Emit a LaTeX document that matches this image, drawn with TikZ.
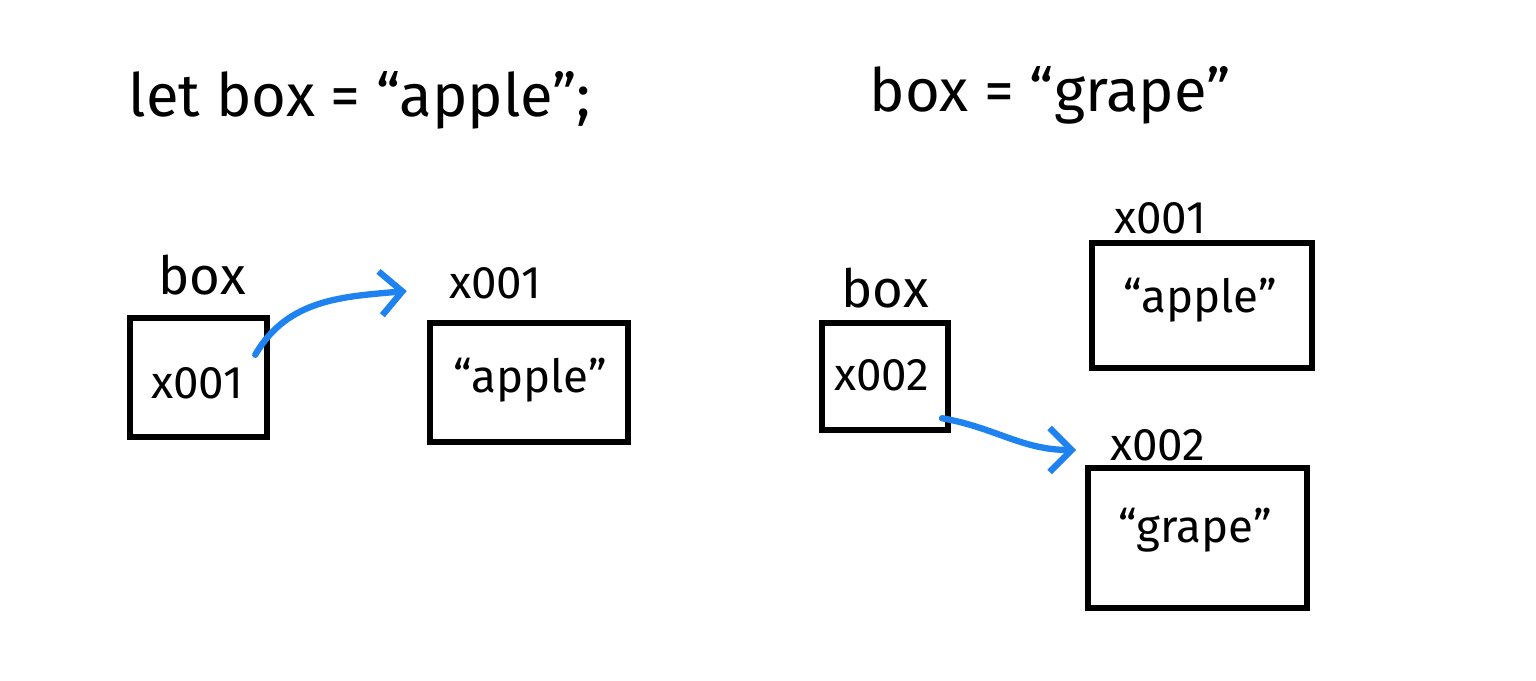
\documentclass[tikz,border=0pt]{standalone}
\usepackage{fontspec}
\setsansfont{Fira Sans}
\usetikzlibrary{arrows.meta, positioning}

\definecolor{ptrblue}{RGB}{30,130,240}

\tikzset{
  cell/.style={draw, line width=1.8pt},
  hand/.style={font=\sffamily\fontsize{13}{16}\selectfont},
  varname/.style={font=\sffamily\fontsize{15}{18}\selectfont},
  title/.style={font=\sffamily\fontsize{17}{20}\selectfont},
  pointer/.style={ptrblue, line width=1.8pt, line cap=round,
    -{Straight Barb[length=2.2mm, width=4.4mm, line width=1.8pt]}}
}

\begin{document}
\begin{tikzpicture}
\useasboundingbox (0,0) rectangle (15.36,6.8);

% left: let box = "apple";
\node[title] (code1) at (3.6,5.8) {let box = ``apple'';};

\node[varname] (name1) at (2.02,4.05) {box};
\draw[cell] (1.3,2.43) rectangle (2.67,3.62);
\node[hand] (ptr1) at (1.97,2.97) {x001};

\node[hand] (addr1) at (4.95,3.97) {x001};
\draw[cell] (4.3,2.38) rectangle (6.28,3.57);
\node[hand] (val1) at (5.3,3.0) {``apple''};

\draw[pointer] (ptr1.north east) to[out=60, in=185] ([shift={(-0.3,-0.08)}]addr1.west);

% right: box = "grape"
\node[title] (code2) at (10.5,5.85) {box = ``grape''};

\node[varname] (name2) at (8.85,3.92) {box};
\draw[cell] (8.22,2.5) rectangle (9.48,3.57);
\node[hand] (ptr2) at (8.82,3.05) {x002};

\node[hand] (addr3) at (11.6,4.62) {x001};
\draw[cell] (10.92,3.12) rectangle (13.12,4.37);
\node[hand] (val3) at (12.0,3.8) {``apple''};

\node[hand] (addr4) at (11.58,2.35) {x002};
\draw[cell] (10.88,0.72) rectangle (13.07,2.12);
\node[hand] (val4) at (11.95,1.5) {``grape''};

\draw[pointer] ([shift={(0.0,-0.15)}]ptr2.south east) to[out=-10, in=180] ([shift={(-0.22,-0.05)}]addr4.west);
\end{tikzpicture}
\end{document}
